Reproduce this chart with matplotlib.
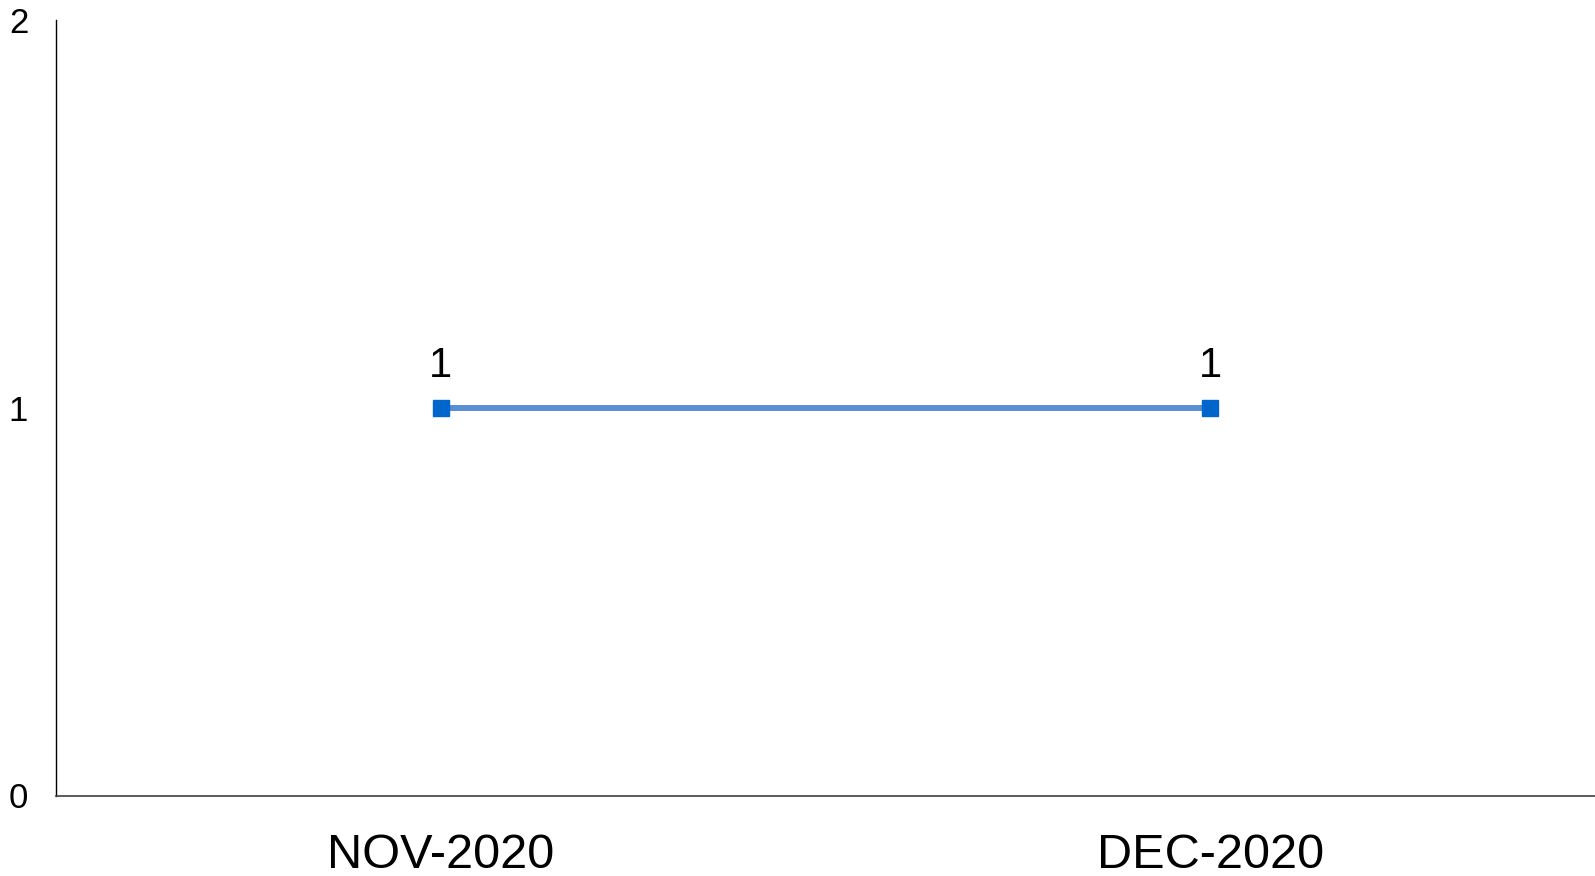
import matplotlib.pyplot as plt

months = ['NOV-2020', 'DEC-2020']
counts = [1, 1]
y_ticks = [0, 1, 2]

plt.rcParams['font.family'] = ['Liberation Sans', 'DejaVu Sans']

fig = plt.figure(figsize=(15.95, 8.76), dpi=100)
ax = fig.add_axes([56 / 1595, 1 - 795.5 / 876, (1595 - 56) / 1595, (795.5 - 20) / 876])

x = list(range(len(months)))
ax.plot(x, counts, color='#5A8FD8', lw=4.3, zorder=2)
ax.plot(x, counts, ls='none', marker='s', ms=12, color='#0066CC', zorder=3)

for xi, v in zip(x, counts):
    ax.annotate(f'{v}', (xi, v), xytext=(0, 16), textcoords='offset points',
                ha='center', va='bottom', fontsize=30)

ax.set_xlim(-0.5, 1.5)
ax.set_ylim(0, 2)
ax.set_xticks(x)
ax.set_xticklabels(months, fontsize=35)
ax.set_yticks(y_ticks)
ax.set_yticklabels([str(t) for t in y_ticks], fontsize=25)
ax.tick_params(axis='x', length=0, pad=27)
ax.tick_params(axis='y', length=0, pad=20)

for side in ['top', 'right']:
    ax.spines[side].set_visible(False)
ax.spines['left'].set_color('#000000')
ax.spines['bottom'].set_color('#404040')
ax.spines['left'].set_linewidth(1)
ax.spines['bottom'].set_linewidth(1.2)

fig.savefig('out.png', dpi=100)
